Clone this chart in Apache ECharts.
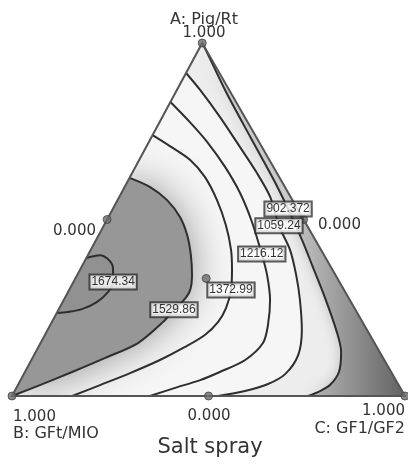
<!DOCTYPE html>
<html>
<head>
<meta charset="utf-8">
<script src="https://cdn.jsdelivr.net/npm/echarts/dist/echarts.min.js"></script>
<style>
  html, body { margin: 0; background: #fff; }
  #main { width: 408px; height: 467px; }
</style>
</head>
<body>
<div id="main"></div>
<script>
  // ternary points are [A, C]  (B = 1 - A - C)
  const levels = [902.372, 1059.24, 1216.12, 1372.99, 1529.86, 1674.34];

  const contour902 = [[1, 0], [0.980, 0.019], [0.861, 0.128], [0.731, 0.254], [0.612, 0.370], [0.530, 0.446],
    [0.442, 0.524], [0.371, 0.584], [0.278, 0.662], [0.181, 0.739], [0.125, 0.777], [0.068, 0.799],
    [0.031, 0.794], [0.014, 0.777], [0, 0.753]];
  const contour1059 = [[0.915, 0], [0.867, 0.059], [0.790, 0.147], [0.705, 0.239], [0.635, 0.314], [0.564, 0.384],
    [0.482, 0.446], [0.414, 0.507], [0.343, 0.557], [0.272, 0.601], [0.187, 0.647], [0.116, 0.672],
    [0.062, 0.665], [0.034, 0.635], [0.014, 0.586], [0, 0.524]];
  const contour1216 = [[0.833, 0], [0.776, 0.077], [0.720, 0.148], [0.649, 0.228], [0.575, 0.302], [0.493, 0.372],
    [0.402, 0.441], [0.343, 0.483], [0.272, 0.525], [0.201, 0.554], [0.150, 0.566], [0.102, 0.544],
    [0.068, 0.496], [0.045, 0.457], [0.023, 0.404], [0, 0.351]];
  const contour1372 = [[0.739, 0], [0.708, 0.059], [0.669, 0.129], [0.620, 0.191], [0.555, 0.253], [0.484, 0.310],
    [0.414, 0.357], [0.357, 0.387], [0.300, 0.412], [0.249, 0.424], [0.210, 0.423], [0.173, 0.407],
    [0.139, 0.373], [0.102, 0.327], [0.065, 0.269], [0.031, 0.209], [0, 0.153]];
  const contour1529 = [[0.618, 0], [0.592, 0.065], [0.555, 0.126], [0.507, 0.182], [0.456, 0.225], [0.399, 0.262],
    [0.343, 0.292], [0.300, 0.308], [0.272, 0.306], [0.244, 0.294], [0.210, 0.283], [0.150, 0.248],
    [0.108, 0.185], [0.068, 0.120], [0.031, 0.056], [0, 0]];
  const contour1674 = [[0.391, 0], [0.399, 0.031], [0.388, 0.056], [0.365, 0.080], [0.323, 0.101], [0.295, 0.102],
    [0.266, 0.087], [0.246, 0.059], [0.238, 0.027], [0.235, 0]];

  const contours = [contour902, contour1059, contour1216, contour1372, contour1529, contour1674];
  const labelAt = [5, 6, 6, 8, 9, 4];   // which point of each contour carries its label

  const designPoints = [[1, 0], [0, 0], [0, 1], [0.5, 0], [0.5, 0.5], [0, 0.5], [0.333, 0.333]];
  const vertexTitles = ['A: Pig/Rt', 'B: GFt/MIO', 'C: GF1/GF2'];
  const vertexTicks = ['1.000', '1.000', '1.000'];
  const edgeTicks = ['0.000', '0.000', '0.000'];   // AB edge, AC edge, BC edge
  const chartTitle = 'Salt spray';

  const APEX = 0.484;  // apex sits a bit left of the middle in the original
  const toXY = p => [p[1] + APEX * p[0], p[0]];
  const FONT = 'DejaVu Sans';

  const chart = echarts.init(document.getElementById('main'));

  function shade(params, api) {
    const pts = arr => arr.map(p => api.coord(toXY(p)));
    const raw = arr => arr.map(p => api.coord(p));
    const rev = arr => arr.slice().reverse();
    const xPix = v => api.coord([v, 0])[0];
    return {
      type: 'group',
      children: [
        { type: 'polygon', shape: { points: pts([[1, 0], [0, 0], [0, 1]]) }, style: { fill: '#f6f6f6' } },
        { type: 'polygon', shape: { points: pts(contour1059.concat(rev(contour902))) }, style: { fill: '#ededed' } },
        {
          type: 'polygon', shape: { points: pts(contour902.concat([[0, 1]])) },
          style: {
            fill: {
              type: 'linear', global: true, x: xPix(0.70), y: 0, x2: xPix(1), y2: 0,
              colorStops: [{ offset: 0, color: '#cacaca' }, { offset: 1, color: '#626262' }]
            },
            shadowBlur: 14, shadowColor: '#bcbcbc'
          }
        },
        { type: 'polygon', shape: { points: pts(contour1529) }, style: { fill: '#979797', shadowBlur: 40, shadowColor: '#8e8e8e' } },
        { type: 'polygon', shape: { points: pts(contour1674) }, style: { fill: '#919191' } },
        // white masks outside the triangle
        { type: 'polygon', shape: { points: raw([[0, 0], [APEX, 1], [APEX, 1.2], [-0.15, 1.2], [-0.15, 0]]) }, style: { fill: '#fff' } },
        { type: 'polygon', shape: { points: raw([[APEX, 1], [1, 0], [1.1, 0], [1.1, 1.2], [APEX, 1.2]]) }, style: { fill: '#fff' } },
        { type: 'polygon', shape: { points: raw([[-0.15, 0], [1.1, 0], [1.1, -0.2], [-0.15, -0.2]]) }, style: { fill: '#fff' } }
      ]
    };
  }

  function frame(params, api) {
    return {
      type: 'polygon',
      shape: { points: [[1, 0], [0, 0], [0, 1]].map(p => api.coord(toXY(p))) },
      style: { fill: 'none', stroke: '#555', lineWidth: 2 }
    };
  }

  const series = [
    { type: 'custom', z: 1, silent: true, clip: false, data: [0], renderItem: shade }
  ];
  contours.forEach(function (c) {
    series.push({
      type: 'line', z: 3, silent: true, data: c.map(toXY), smooth: 0.3,
      showSymbol: false, symbol: 'none',
      lineStyle: { color: '#2e2e2e', width: 2 }
    });
  });
  series.push({ type: 'custom', z: 4, silent: true, clip: false, data: [0], renderItem: frame });
  series.push({
    type: 'scatter', z: 5, silent: true, symbolSize: 8,
    data: designPoints.map(toXY),
    itemStyle: { color: '#6c6c6c', borderColor: '#444', borderWidth: 1 }
  });
  series.push({
    type: 'scatter', z: 6, silent: true, symbolSize: 1,
    itemStyle: { color: 'rgba(0,0,0,0)' },
    data: contours.map((c, i) => ({ name: String(levels[i]), value: toXY(c[labelAt[i]]) })),
    label: {
      show: true, position: 'inside', formatter: '{b}',
      fontFamily: 'Liberation Sans', fontSize: 12, color: '#000',
      backgroundColor: '#fff', borderColor: '#333', borderWidth: 2,
      padding: [1, 1, 0, 1]
    }
  });

  function txt(text, x, y, align, size) {
    return {
      type: 'text', x: x, y: y, z: 100, silent: true,
      style: {
        text: text, fill: '#333', font: size + 'px "' + FONT + '"',
        align: align, verticalAlign: 'middle', textAlign: align, textVerticalAlign: 'middle'
      }
    };
  }

  const option = {
    animation: false,
    backgroundColor: '#fff',
    grid: { left: 12, right: 3, top: 43, bottom: 71 },
    xAxis: { type: 'value', min: 0, max: 1, show: false },
    yAxis: { type: 'value', min: 0, max: 1, show: false },
    graphic: [
      txt(vertexTitles[0], 204, 20, 'center', 16),
      txt(vertexTicks[0], 204, 33, 'center', 15),
      txt(vertexTicks[1], 13, 417, 'left', 15),
      txt(vertexTitles[1], 13, 434, 'left', 16),
      txt(vertexTicks[2], 405, 411, 'right', 15),
      txt(vertexTitles[2], 405, 429, 'right', 16),
      txt(edgeTicks[0], 96, 231, 'right', 15),
      txt(edgeTicks[1], 318, 225, 'left', 15),
      txt(edgeTicks[2], 209, 416, 'center', 15),
      txt(chartTitle, 210, 448, 'center', 21)
    ],
    series: series
  };
  chart.setOption(option);
</script>
</body>
</html>
